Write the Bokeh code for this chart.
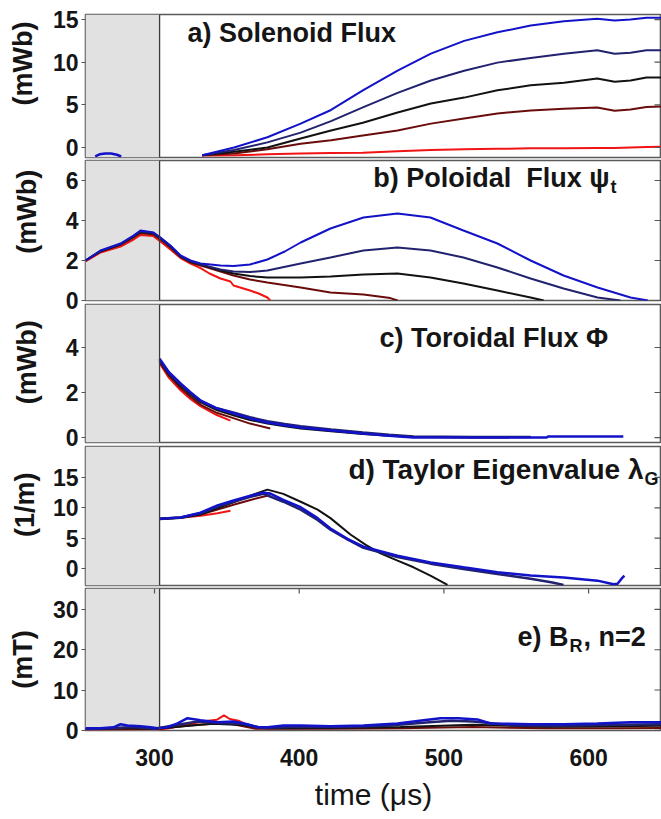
from bokeh.plotting import figure
from bokeh.layouts import column
from bokeh.models import BoxAnnotation, Span, Label, FixedTicker, Range1d
from bokeh.embed import file_html
from bokeh.resources import INLINE

FONT = "Liberation Sans"

# ---------------- data ----------------
X_START, X_END = 252.3, 650.4
SHADE_END = 303.5
X_TICKS = [300, 400, 500, 600]

# a) Solenoid flux (mWb)
A_T = [333, 355, 378, 401, 422, 444, 468, 491, 514, 537, 560, 583, 606, 618, 629, 640, 650]
A_BLUE = [-0.9, 0.0, 1.2, 2.8, 4.4, 6.7, 9.0, 11.0, 12.5, 13.5, 14.3, 14.8, 15.1, 14.9, 15.0, 15.2, 15.2]
A_NAVY = [-0.9, -0.3, 0.6, 1.75, 3.1, 4.7, 6.4, 7.85, 9.0, 9.95, 10.5, 11.0, 11.4, 11.0, 11.1, 11.4, 11.4]
A_BLACK = [-0.9, -0.5, 0.0, 1.05, 2.0, 2.9, 4.1, 5.15, 5.85, 6.7, 7.3, 7.6, 8.1, 7.7, 7.85, 8.2, 8.2]
A_DARKRED = [-0.9, -0.7, -0.2, 0.45, 0.85, 1.4, 2.0, 2.8, 3.4, 4.0, 4.35, 4.55, 4.7, 4.3, 4.45, 4.75, 4.8]
A_RED = [-0.95, -0.9, -0.8, -0.7, -0.65, -0.6, -0.45, -0.3, -0.2, -0.15, -0.1, -0.1, -0.05, -0.05, 0.0, 0.05, 0.1]
A_BLIP_T = [259, 262, 266, 270, 274, 277]
A_BLIP = [-1.05, -0.8, -0.7, -0.7, -0.85, -1.05]
A_TICKS = [0, 5, 10, 15]

# b) Poloidal flux (mWb)
B_EARLY_T = [252.3, 262.7, 276.5, 285.5, 290.3, 299.3, 304.1, 311, 318, 324.9, 331.8]
B_BLUE_T = B_EARLY_T + [345.6, 354.6, 366, 378, 390, 401, 421.6, 444.4, 467.9, 490.7, 513.5, 537, 559.9, 582.7, 606.2, 629, 641]
B_BLUE = [2.0, 2.5, 2.85, 3.25, 3.5, 3.4, 3.15, 2.75, 2.25, 2.0, 1.85,
          1.75, 1.72, 1.8, 2.05, 2.45, 2.9, 3.6, 4.15, 4.35, 4.15, 3.5, 2.85, 2.0, 1.25, 0.65, 0.15, 0.0]
B_NAVY_T = B_EARLY_T + [336.6, 345.6, 354.6, 366, 378, 401, 421.6, 444.4, 467.9, 490.7, 513.5, 537, 559.9, 582.7, 606.2, 622]
B_NAVY = [2.0, 2.48, 2.82, 3.22, 3.46, 3.37, 3.12, 2.72, 2.22, 1.97, 1.82,
          1.72, 1.55, 1.45, 1.42, 1.5, 1.85, 2.15, 2.5, 2.65, 2.5, 2.15, 1.65, 1.1, 0.6, 0.15, 0.0]
B_BLACK_T = B_EARLY_T + [336.6, 345.6, 354.6, 366, 378, 401, 421.6, 444.4, 467.9, 490.7, 513.5, 537, 559.9, 569]
B_BLACK = [2.0, 2.46, 2.8, 3.2, 3.43, 3.35, 3.1, 2.7, 2.2, 1.95, 1.8,
           1.7, 1.5, 1.35, 1.22, 1.15, 1.15, 1.2, 1.3, 1.35, 1.15, 0.85, 0.5, 0.15, 0.0]
B_DARKRED_T = B_EARLY_T + [336.6, 345.6, 354.6, 366, 378, 401, 421.6, 444.4, 463, 468]
B_DARKRED = [2.0, 2.45, 2.78, 3.15, 3.38, 3.3, 3.05, 2.65, 2.18, 1.9, 1.75,
             1.65, 1.45, 1.25, 1.05, 0.9, 0.65, 0.4, 0.3, 0.12, 0.0]
B_RED_T = B_EARLY_T + [338, 345.6, 352.5, 354.6, 366, 372, 378, 380]
B_RED = [1.95, 2.4, 2.7, 3.05, 3.28, 3.22, 2.95, 2.55, 2.12, 1.85, 1.62,
         1.35, 1.1, 0.95, 0.75, 0.5, 0.35, 0.15, 0.0]
B_TICKS = [0, 2, 4, 6]

# c) Toroidal flux (mWb)
C_BLUE_T = [303.5, 310, 318, 325, 332, 343, 355, 366, 378, 390, 401, 422, 444, 462, 479, 571, 572, 624]
C_BLUE = [3.5, 2.9, 2.4, 2.0, 1.64, 1.3, 1.07, 0.85, 0.67, 0.55, 0.45, 0.31, 0.18, 0.08, 0.0, 0.0, 0.05, 0.05]
C_NAVY_T = [303.5, 310, 318, 325, 332, 343, 355, 366, 378, 390, 401, 422, 444, 462, 479, 520, 560]
C_NAVY = [3.45, 2.85, 2.36, 1.97, 1.62, 1.3, 1.1, 0.9, 0.73, 0.6, 0.5, 0.36, 0.22, 0.12, 0.05, 0.02, 0.02]
C_BLACK_T = [303.5, 310, 318, 325, 332, 343, 355, 366, 378, 390, 401, 422, 444, 462, 479, 520, 545]
C_BLACK = [3.4, 2.8, 2.3, 1.9, 1.56, 1.22, 0.98, 0.78, 0.62, 0.5, 0.4, 0.28, 0.16, 0.08, 0.03, 0.0, 0.0]
C_DARKRED_T = [303.5, 310, 318, 325, 332, 343, 355, 366, 380]
C_DARKRED = [3.35, 2.75, 2.2, 1.8, 1.45, 1.1, 0.85, 0.62, 0.4]
C_RED_T = [303.5, 310, 318, 325, 332, 343, 352.5]
C_RED = [3.3, 2.65, 2.1, 1.7, 1.38, 1.0, 0.75]
C_TICKS = [0, 2, 4]

# d) Taylor eigenvalue (1/m)
D_BLUE_T = [303.5, 310, 318, 331.8, 343.5, 354.6, 366.3, 375.3, 380.1, 389, 401, 412.7, 421.6, 433.3,
            444.4, 467.9, 490.7, 513.5, 537, 559.9, 582.7, 606.2, 617.2, 620, 623.4, 624.8]
D_BLUE = [8.2, 8.3, 8.4, 9.2, 10.4, 11.2, 12.0, 12.5, 12.35, 11.3, 10.1, 8.3, 6.6, 4.9,
          3.6, 2.1, 1.0, 0.2, -0.6, -1.15, -1.5, -2.0, -2.6, -2.5, -1.5, -1.2]
D_NAVY_T = [303.5, 318, 331.8, 343.5, 354.6, 366.3, 375.3, 389, 401, 412.7, 421.6, 433.3, 444.4,
            467.9, 490.7, 513.5, 537, 559.9, 575, 582.7]
D_NAVY = [8.2, 8.4, 9.1, 10.2, 11.0, 11.8, 12.3, 11.0, 9.7, 8.0, 6.4, 4.8, 3.4,
          1.9, 0.8, -0.1, -0.9, -1.7, -2.3, -2.7]
D_BLACK_T = [303.5, 318, 331.8, 343.5, 354.6, 366.3, 378, 389, 401, 412.7, 421.6, 435.4, 446, 456.2,
             468, 479, 491, 502.5]
D_BLACK = [8.1, 8.3, 8.9, 9.9, 10.9, 12.0, 13.0, 12.3, 11.0, 9.7, 8.3, 5.6, 3.9, 2.5,
           1.3, 0.2, -1.2, -2.7]
D_DARKRED_T = [303.5, 318, 331.8, 343.5, 354.6, 366.3, 380]
D_DARKRED = [8.2, 8.4, 8.9, 9.7, 10.5, 11.3, 12.1]
D_RED_T = [303.5, 318, 331.8, 343.5, 352.5]
D_RED = [8.2, 8.35, 8.7, 9.1, 9.5]
D_TICKS = [0, 5, 10, 15]

# e) B_R, n=2 (mT)
E_BLUE_T = [252.3, 262.7, 271.6, 276.5, 281.3, 290.3, 297.2, 302.1, 309, 315.9, 322.8, 331.8, 343.5,
            354.6, 364.3, 371.2, 378.1, 389.1, 400.9, 421.6, 444.4, 467.9, 485.9, 497.6, 510, 523.2,
            532.2, 559.8, 582.6, 606.1, 628.9, 650]
E_BLUE = [0.5, 0.5, 0.75, 1.5, 1.2, 1.0, 0.75, 0.5, 0.75, 1.7, 3.0, 2.5, 2.0,
          2.2, 1.5, 0.75, 0.75, 1.2, 1.2, 1.0, 1.2, 1.7, 2.5, 3.0, 3.0, 2.7,
          1.7, 1.5, 1.5, 1.7, 2.0, 2.0]
E_NAVY_T = [252.3, 270, 285, 300, 315, 330, 345, 360, 375, 400, 430, 460, 490, 505, 520, 550, 580, 610, 650]
E_NAVY = [0.3, 0.5, 0.8, 0.4, 1.3, 2.2, 1.8, 1.6, 0.6, 0.9, 0.8, 1.1, 2.0, 2.4, 2.2, 1.2, 1.1, 1.3, 1.5]
E_BLACK_T = [252.3, 280, 300, 320, 340, 360, 380, 420, 470, 520, 570, 620, 650]
E_BLACK = [0.3, 0.6, 0.3, 1.0, 1.6, 1.3, 0.5, 0.6, 0.8, 1.4, 0.9, 1.0, 1.1]
E_DARKRED_T = [252.3, 300, 330, 350, 370, 420, 470, 520, 570, 620, 650]
E_DARKRED = [0.2, 0.3, 1.4, 1.8, 0.4, 0.4, 0.5, 0.8, 0.5, 0.5, 0.6]
E_RED_T = [252.3, 290, 305, 320, 333, 343, 348, 352, 358, 366, 380]
E_RED = [0.2, 0.3, 0.2, 1.2, 2.2, 2.6, 3.7, 2.8, 2.4, 1.0, 0.4]
E_TICKS = [0, 10, 20, 30]

COLORS = {"red": "#f01414", "darkred": "#6a0c0c", "black": "#121212",
          "navy": "#22226e", "blue": "#1212c8"}

# ---------------- layout helpers ----------------
FIG_W = 661
FRAME_L = 85
FRAME_W = FIG_W - FRAME_L
PX_PER_T = FRAME_W / (X_END - X_START)
OVERLAP = 16
NB = "\u00a0"


def px_to_t(px):
    return X_START + (px - FRAME_L) / PX_PER_T


def make_panel(height, top, bottom, ftop, fbot, yr, yticks, series,
               ylabel, label_standoff, titles, zorder, xaxis=False, first=False):
    p = figure(width=FIG_W, height=height, output_backend="svg", toolbar_location=None,
               title_location=None, x_axis_location="below" if xaxis else None,
               x_range=Range1d(X_START, X_END), y_range=Range1d(*yr),
               min_border_left=FRAME_L, min_border_right=0,
               min_border_top=top, min_border_bottom=bottom)
    if not first:
        p.margin = (-OVERLAP, 0, 0, 0)
    p.styles = {"z-index": str(zorder), "position": "relative"}
    p.background_fill_color = "white"
    p.border_fill_alpha = 0.0
    p.outline_line_color = "#5a5a5a"
    p.outline_line_width = 1.6
    p.grid.grid_line_color = None

    def py_to_v(py):
        return yr[0] + (fbot - py) * (yr[1] - yr[0]) / (fbot - ftop)

    p.add_layout(BoxAnnotation(right=SHADE_END, fill_color="#e1e1e1", fill_alpha=1.0,
                               line_color=None, level="underlay"))
    p.add_layout(Span(location=SHADE_END, dimension="height", line_color="#3a3a3a",
                      line_width=1.3))

    for name, tt, vv, lw in series:
        p.line(tt, vv, line_color=COLORS[name], line_width=lw)

    ax = p.yaxis[0]
    ax.ticker = FixedTicker(ticks=yticks)
    ax.axis_line_color = None
    ax.major_tick_out = 4
    ax.major_tick_in = 0
    ax.minor_tick_out = 0
    ax.minor_tick_in = 0
    ax.major_tick_line_color = "#555555"
    ax.major_label_standoff = 3
    ax.major_label_text_font = FONT
    ax.major_label_text_font_style = "bold"
    ax.major_label_text_font_size = "23px"
    ax.major_label_text_color = "#151515"
    ax.axis_label = ylabel
    ax.axis_label_text_font = FONT
    ax.axis_label_text_font_style = "bold"
    ax.axis_label_text_font_size = "27px"
    ax.axis_label_text_color = "#151515"
    ax.axis_label_standoff = label_standoff

    # inward tick marks on the right edge
    rx0 = X_END - 7 / PX_PER_T
    p.segment(x0=[rx0] * len(yticks), y0=yticks, x1=[X_END] * len(yticks), y1=yticks,
              line_color="#555555", line_width=1.2)

    for txt, px, py, size, align in titles:
        p.add_layout(Label(x=px_to_t(px), y=py_to_v(py), text=txt, text_align=align,
                           text_baseline="middle", text_font=FONT, text_font_style="bold",
                           text_font_size=size, text_color="#151515"))
    return p, py_to_v


pa, _ = make_panel(159 + OVERLAP, 14, 2 + OVERLAP, 14, 157, (-1.17, 15.59), A_TICKS,
                   [("red", A_T, A_RED, 2), ("darkred", A_T, A_DARKRED, 2),
                    ("black", A_T, A_BLACK, 2), ("navy", A_T, A_NAVY, 2),
                    ("blue", A_T, A_BLUE, 2), ("blue", A_BLIP_T, A_BLIP, 2.5)],
                   NB * 6 + "(mWb)", 12, [("a) Solenoid Flux", 187, 32, "27px", "left")],
                   5, first=True)

pb, _ = make_panel(143 + OVERLAP, 1, 2 + OVERLAP, 160, 300, (0.0, 7.0), B_TICKS,
                   [("red", B_RED_T, B_RED, 2), ("darkred", B_DARKRED_T, B_DARKRED, 2),
                    ("black", B_BLACK_T, B_BLACK, 2), ("navy", B_NAVY_T, B_NAVY, 2),
                    ("blue", B_BLUE_T, B_BLUE, 2)],
                   NB * 5 + "(mWb)", 21,
                   [("b) Poloidal" + NB + NB + "Flux \u03c8", 609, 177, "27px", "right"),
                    ("t", 610, 186, "18px", "left")], 4)

pc, _ = make_panel(142 + OVERLAP, 2, 2 + OVERLAP, 304, 442, (-0.22, 5.91), C_TICKS,
                   [("red", C_RED_T, C_RED, 2), ("darkred", C_DARKRED_T, C_DARKRED, 2),
                    ("black", C_BLACK_T, C_BLACK, 2), ("navy", C_NAVY_T, C_NAVY, 2.5),
                    ("blue", C_BLUE_T, C_BLUE, 2.5)],
                   NB * 3 + "(mWb)", 21, [("c) Toroidal Flux \u03a6", 379, 337, "27px", "left")], 3)

pd_, _ = make_panel(143 + OVERLAP, 2, 2 + OVERLAP, 446, 585, (-2.8, 20.1), D_TICKS,
                    [("red", D_RED_T, D_RED, 2), ("darkred", D_DARKRED_T, D_DARKRED, 2),
                     ("black", D_BLACK_T, D_BLACK, 2), ("navy", D_NAVY_T, D_NAVY, 2.5),
                     ("blue", D_BLUE_T, D_BLUE, 2.5)],
                    NB * 3 + "(1/m)", 10,
                    [("d) Taylor Eigenvalue \u03bb", 643, 469, "28px", "right"),
                     ("G", 644, 478, "18px", "left")], 2)

pe, e_py = make_panel(232, 1, 89, 588, 730, (-0.05, 35.2), E_TICKS,
                      [("red", E_RED_T, E_RED, 2), ("darkred", E_DARKRED_T, E_DARKRED, 2),
                       ("black", E_BLACK_T, E_BLACK, 2), ("navy", E_NAVY_T, E_NAVY, 2.5),
                       ("blue", E_BLUE_T, E_BLUE, 2.5)],
                      "(mT)", 12,
                      [("e) B", 568, 636, "27px", "right"), ("R", 569, 645, "18px", "left"),
                       (", n=2", 583, 636, "27px", "left")], 1, xaxis=True)

# small inward ticks at top of panel e
pe.segment(x0=X_TICKS, y0=[e_py(588)] * len(X_TICKS), x1=X_TICKS, y1=[e_py(593)] * len(X_TICKS),
           line_color="#555555", line_width=1.2)

xa = pe.xaxis[0]
xa.ticker = FixedTicker(ticks=X_TICKS)
xa.axis_line_color = None
xa.major_tick_out = 0
xa.major_tick_in = 0
xa.minor_tick_out = 0
xa.minor_tick_in = 0
xa.major_label_standoff = 18
xa.major_label_text_font = FONT
xa.major_label_text_font_style = "bold"
xa.major_label_text_font_size = "23px"
xa.major_label_text_color = "#151515"
xa.axis_label = "time (\u03bcs)"
xa.axis_label_text_font = FONT
xa.axis_label_text_font_style = "normal"
xa.axis_label_text_font_size = "30px"
xa.axis_label_text_color = "#151515"
xa.axis_label_standoff = 9

layout = column(pa, pb, pc, pd_, pe, spacing=0)
open("out.html", "w").write(file_html(layout, INLINE))
